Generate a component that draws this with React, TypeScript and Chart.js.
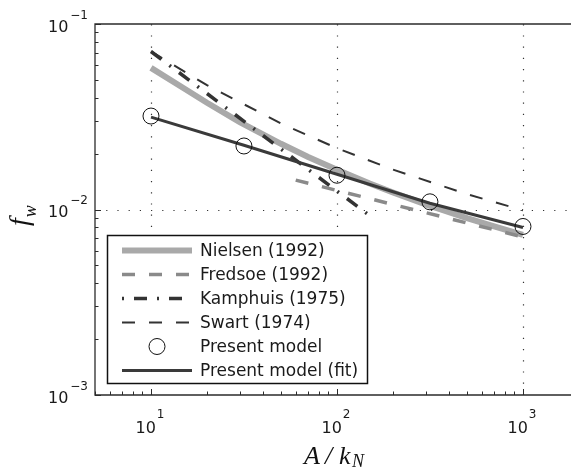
import React, { useEffect, useRef } from 'react';
import { Chart, registerables } from 'chart.js';

Chart.register(...registerables);

// ---- Data ----
const nielsenX = [10, 15, 20, 30, 50, 70, 100, 150, 200, 300, 500, 700, 1000];
const nielsenY = [0.058, 0.045, 0.0376, 0.0296, 0.0226, 0.0192, 0.0164, 0.0138, 0.01235, 0.01065, 0.00898, 0.0081, 0.0073];

const fredsoeX = [60, 1000];
const fredsoeY = [0.0144, 0.00711];

const kamphuisX = [10, 156];
const kamphuisY = [0.0711, 0.0090];

const swartX = [10, 20, 50, 100, 200, 500, 1000];
const swartY = [0.0712, 0.0468, 0.0291, 0.0214, 0.0164, 0.0121, 0.0099];

const modelX = [10, 31.6, 100, 316, 1000];
const modelY = [0.0319, 0.0220, 0.0153, 0.0110, 0.0081];

const fitX = [10, 31.6, 100, 316, 1000];
const fitY = [0.0315, 0.0222, 0.0155, 0.0108, 0.0080];

const legendLabels = ['Nielsen (1992)', 'Fredsoe (1992)', 'Kamphuis (1975)', 'Swart (1974)', 'Present model', 'Present model (fit)'];

const xMajorTicks = [10, 100, 1000];
const xTickExps = ['1', '2', '3'];
const yMajorTicks = [0.1, 0.01, 0.001];
const yTickExps = ['\u22121', '\u22122', '\u22123'];

const xMin = 5;
const xMax = 1812;
const yMin = 0.001;
const yMax = 0.1;

const toPts = (xs: number[], ys: number[]) => xs.map((x, i) => ({ x, y: ys[i] }));

const AXIS = '#2b2b2b';
const SANS = '"DejaVu Sans"';

function minorValues(lo: number, hi: number): number[] {
  const out: number[] = [];
  for (let e = -4; e <= 4; e++) {
    for (let m = 1; m <= 9; m++) {
      const v = m * Math.pow(10, e);
      if (v >= lo * 0.9999 && v <= hi * 1.0001) out.push(v);
    }
  }
  return out;
}

const framePlugin = {
  id: 'frame',
  beforeDatasetsDraw(chart: any) {
    const { ctx, chartArea: a, scales } = chart;
    const xs = scales.x, ys = scales.y;
    ctx.save();
    ctx.strokeStyle = '#333';
    ctx.lineWidth = 1.2;
    ctx.setLineDash([1.2, 10]);
    xMajorTicks.forEach((v) => {
      const px = Math.round(xs.getPixelForValue(v)) + 0.5;
      ctx.beginPath();
      ctx.moveTo(px, a.bottom);
      ctx.lineTo(px, a.top);
      ctx.stroke();
    });
    [0.01].forEach((v) => {
      const py = Math.round(ys.getPixelForValue(v)) + 0.5;
      ctx.beginPath();
      ctx.moveTo(a.left, py);
      ctx.lineTo(a.right, py);
      ctx.stroke();
    });
    ctx.restore();
  },
  afterDatasetsDraw(chart: any) {
    const { ctx, chartArea: a, scales } = chart;
    const xs = scales.x, ys = scales.y;
    ctx.save();
    // frame
    ctx.strokeStyle = AXIS;
    ctx.lineWidth = 1.3;
    ctx.setLineDash([]);
    ctx.beginPath();
    ctx.moveTo(a.right + 2, a.top);
    ctx.lineTo(a.left, a.top);
    ctx.lineTo(a.left, a.bottom);
    ctx.lineTo(a.right + 2, a.bottom);
    ctx.stroke();

    // ticks
    ctx.lineWidth = 1;
    minorValues(xMin, xMax).forEach((v) => {
      const px = Math.round(xs.getPixelForValue(v)) + 0.5;
      const major = xMajorTicks.includes(v);
      const len = major ? 6 : 3.5;
      ctx.beginPath();
      ctx.moveTo(px, a.bottom);
      ctx.lineTo(px, a.bottom - len);
      ctx.stroke();
    });
    minorValues(yMin, yMax).forEach((v) => {
      const py = Math.round(ys.getPixelForValue(v)) + 0.5;
      const major = yMajorTicks.some((m) => Math.abs(m - v) < 1e-9);
      const len = major ? 6 : 3.5;
      ctx.beginPath();
      ctx.moveTo(a.left, py);
      ctx.lineTo(a.left + len, py);
      ctx.stroke();
    });

    // tick labels
    ctx.fillStyle = '#1a1a1a';
    ctx.textBaseline = 'alphabetic';
    ctx.textAlign = 'left';
    const bigFont = `16px ${SANS}`;
    const supFont = `12px ${SANS}`;
    yMajorTicks.forEach((v, i) => {
      const py = ys.getPixelForValue(v);
      ctx.font = supFont;
      const w2 = ctx.measureText(yTickExps[i]).width;
      ctx.font = bigFont;
      const w1 = ctx.measureText('10').width;
      const right = 88;
      ctx.font = bigFont;
      ctx.fillText('10', right - w2 - 2 - w1, py + 7.5);
      ctx.font = supFont;
      ctx.fillText(yTickExps[i], right - w2, py - 5.5);
    });
    xMajorTicks.forEach((v, i) => {
      const px = xs.getPixelForValue(v);
      ctx.font = supFont;
      const w2 = ctx.measureText(xTickExps[i]).width;
      ctx.font = bigFont;
      const w1 = ctx.measureText('10').width;
      const total = w1 + 1 + w2;
      const left = px - 1 - total / 2;
      ctx.font = bigFont;
      ctx.fillText('10', left, 433);
      ctx.font = supFont;
      ctx.fillText(xTickExps[i], left + w1 + 1, 418);
    });

    // axis titles
    ctx.fillStyle = '#111';
    const mathFont = 'italic 26px "Liberation Serif"';
    const subFont = 'italic 18px "Liberation Serif"';
    ctx.font = mathFont;
    ctx.fillText('A', 304, 464);
    ctx.fillText('/', 325, 464);
    ctx.fillText('k', 339, 464);
    ctx.font = subFont;
    ctx.fillText('N', 352, 467);

    ctx.save();
    ctx.translate(28, 226);
    ctx.rotate(-Math.PI / 2);
    ctx.font = 'italic 28px "Liberation Serif"';
    ctx.fillText('f', 0, 0);
    const fw = ctx.measureText('f').width;
    ctx.font = subFont;
    ctx.fillText('w', fw + 1, 8);
    ctx.restore();

    // legend
    const L = 107.5, T = 235.5, R = 367.5, B = 383.5;
    ctx.fillStyle = '#ffffff';
    ctx.fillRect(L, T, R - L, B - T);
    ctx.strokeStyle = '#111';
    ctx.lineWidth = 1.5;
    ctx.strokeRect(L, T, R - L, B - T);
    const rows = [250.5, 274.5, 298.5, 322.5, 346.5, 370.5];
    const x0 = 122, x1 = 192;
    chart.data.datasets.forEach((ds: any, i: number) => {
      const y = rows[i];
      ctx.save();
      if (ds.showLine === false) {
        ctx.beginPath();
        ctx.arc((x0 + x1) / 2, y, ds.pointRadius, 0, Math.PI * 2);
        ctx.strokeStyle = ds.pointBorderColor;
        ctx.lineWidth = ds.pointBorderWidth;
        ctx.stroke();
      } else {
        ctx.beginPath();
        const dash = ds.borderDash || [];
        ctx.setLineDash(dash);
        if (dash.length === 4) ctx.lineDashOffset = dash[0] + dash[1];
        ctx.lineCap = 'butt';
        ctx.strokeStyle = ds.borderColor;
        ctx.lineWidth = ds.borderWidth;
        ctx.moveTo(x0, y);
        ctx.lineTo(x1, y);
        ctx.stroke();
      }
      ctx.restore();
      ctx.fillStyle = '#1a1a1a';
      ctx.font = `17px ${SANS}`;
      ctx.textBaseline = 'middle';
      ctx.fillText(legendLabels[i], 200, y + 1);
      ctx.textBaseline = 'alphabetic';
    });
    ctx.restore();
  },
};

export default function App() {
  const ref = useRef<HTMLCanvasElement | null>(null);
  useEffect(() => {
    document.body.style.margin = '0';
    const canvas = ref.current;
    if (!canvas) return;
    const chart = new Chart(canvas, {
      type: 'scatter',
      data: {
        datasets: [
          {
            label: legendLabels[0],
            data: toPts(nielsenX, nielsenY),
            showLine: true,
            borderColor: '#a9a9a9',
            borderWidth: 6,
            pointRadius: 0,
            order: 6,
          },
          {
            label: legendLabels[1],
            data: toPts(fredsoeX, fredsoeY),
            showLine: true,
            borderColor: '#8a8a8a',
            borderWidth: 3.5,
            borderDash: [13, 14],
            pointRadius: 0,
            order: 5,
          },
          {
            label: legendLabels[2],
            data: toPts(kamphuisX, kamphuisY),
            showLine: true,
            borderColor: '#333333',
            borderWidth: 3.5,
            borderDash: [13, 10, 2, 10],
            pointRadius: 0,
            order: 4,
          },
          {
            label: legendLabels[3],
            data: toPts(swartX, swartY),
            showLine: true,
            borderColor: '#333333',
            borderWidth: 2,
            borderDash: [13, 14],
            pointRadius: 0,
            order: 3,
          },
          {
            label: legendLabels[4],
            data: toPts(modelX, modelY),
            showLine: false,
            pointRadius: 8,
            pointBorderWidth: 1,
            pointBorderColor: '#111111',
            pointBackgroundColor: 'rgba(0,0,0,0)',
            pointHoverRadius: 8,
            order: 1,
          },
          {
            label: legendLabels[5],
            data: toPts(fitX, fitY),
            showLine: true,
            borderColor: '#3a3a3a',
            borderWidth: 3,
            pointRadius: 0,
            order: 2,
          },
        ],
      } as any,
      options: {
        animation: false,
        responsive: false,
        maintainAspectRatio: false,
        events: [],
        layout: { autoPadding: false, padding: { left: 95, top: 24, right: 0, bottom: 73 } },
        plugins: { legend: { display: false }, tooltip: { enabled: false }, title: { display: false } },
        scales: {
          x: { type: 'logarithmic', min: xMin, max: xMax, display: false },
          y: { type: 'logarithmic', min: yMin, max: yMax, display: false },
        },
      } as any,
      plugins: [framePlugin],
    });
    return () => chart.destroy();
  }, []);
  return (
    <div style={{ position: 'absolute', left: 0, top: 0, width: 571, height: 468, background: '#fff' }}>
      <canvas ref={ref} width={571} height={468} style={{ display: 'block', width: 571, height: 468 }} />
    </div>
  );
}
